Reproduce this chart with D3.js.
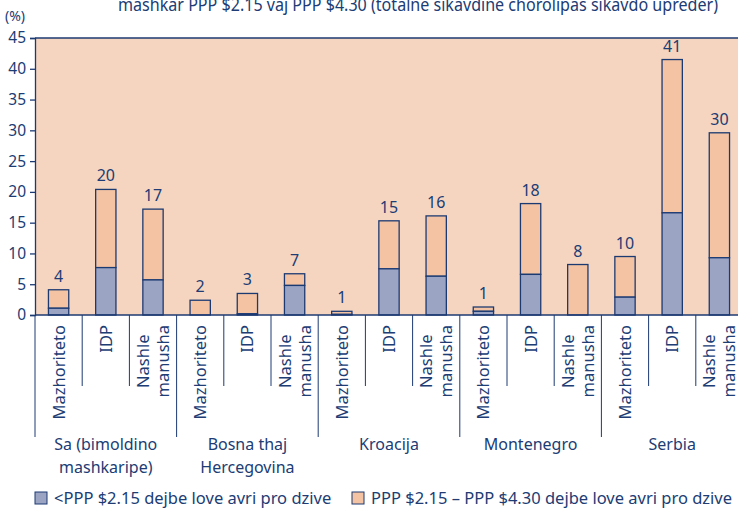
<!DOCTYPE html>
<html>
<head>
<meta charset="utf-8">
<script src="https://cdn.jsdelivr.net/npm/d3@7"></script>
<style>
  body { margin: 0; background: #fff; }
  svg { display: block; font-family: 'Noto Sans', sans-serif; }
</style>
</head>
<body>
<svg id="chart" width="738" height="509"></svg>
<script>
/* global d3 */

// ---------- data ----------
const groups = ['Sa (bimoldino mashkaripe)', 'Bosna thaj Hercegovina', 'Kroacija', 'Montenegro', 'Serbia']
const groupLines = [['Sa (bimoldino', 'mashkaripe)'], ['Bosna thaj', 'Hercegovina'], ['Kroacija'], ['Montenegro'], ['Serbia']]
const subgroups = ['Mazhoriteto', 'IDP', 'Nashle manusha']
const subLines = [['Mazhoriteto'], ['IDP'], ['Nashle', 'manusha']]

// per group, in subgroup order
const below215 = [
  [1.1, 7.7, 5.7],
  [0, 0.2, 4.8],
  [0.1, 7.5, 6.3],
  [0.6, 6.6, 0],
  [2.9, 16.6, 9.3]
]
const between215and430 = [
  [3.0, 12.7, 11.5],
  [2.4, 3.3, 1.9],
  [0.5, 7.8, 9.8],
  [0.7, 11.5, 8.2],
  [6.6, 24.9, 20.3]
]
const totalLabels = [
  [4, 20, 17],
  [2, 3, 7],
  [1, 15, 16],
  [1, 18, 8],
  [10, 41, 30]
]
const yTicks = [0, 5, 10, 15, 20, 25, 30, 35, 40, 45]
const legendLabels = ['<PPP $2.15 dejbe love avri pro dzive', 'PPP $2.15 \u2013 PPP $4.30 dejbe love avri pro dzive']

const title = 'mashkar PPP $2.15 vaj PPP $4.30 (totalne sikavdine chorolipas sikavdo upreder)'

// ---------- style ----------
const navy = '#1c3a72'
const textCol = '#203c74'
const peach = '#f5d5c0'
const orange = '#f3c3a3'
const blue = '#9ca4c4'

const margin = { top: 38, left: 35, bottom: 315, right: 743 }

const svg = d3.select('#chart')

const x0 = d3.scaleBand().domain(groups).range([margin.left, margin.right])
const x1 = d3.scaleBand().domain(subgroups).range([0, x0.bandwidth()])
  .paddingInner(0.57).paddingOuter(0.285)
const step = x0.bandwidth() / subgroups.length
const y = d3.scaleLinear().domain([0, 45]).range([margin.bottom, margin.top])

// plot background
svg.append('rect')
  .attr('x', margin.left).attr('y', margin.top)
  .attr('width', margin.right - margin.left)
  .attr('height', margin.bottom - margin.top)
  .attr('fill', peach)

// top border
svg.append('line')
  .attr('x1', margin.left).attr('x2', margin.right)
  .attr('y1', y(45)).attr('y2', y(45))
  .attr('stroke', navy).attr('stroke-width', 1.3)

// title (cropped at top in the original)
svg.append('text')
  .attr('x', 118).attr('y', 11)
  .attr('fill', textCol)
  .attr('font-size', 18)
  .attr('textLength', 600)
  .attr('lengthAdjust', 'spacingAndGlyphs')
  .text(title)

svg.append('text')
  .attr('x', 5).attr('y', 21)
  .attr('fill', textCol)
  .attr('font-size', 14)
  .text('(%)')

// y axis
const yAxis = svg.append('g')
  .attr('transform', `translate(${margin.left},0)`)
  .call(d3.axisLeft(y).tickValues(yTicks).tickSize(5).tickPadding(4))
yAxis.selectAll('path, line').attr('stroke', navy).attr('stroke-width', 1.3)
yAxis.selectAll('text')
  .attr('fill', textCol)
  .attr('font-size', 15.5)
  .attr('font-family', "'Noto Sans', sans-serif")

// bars
const gGroups = svg.selectAll('.grp')
  .data(groups)
  .join('g')
  .attr('class', 'grp')
  .attr('transform', d => `translate(${x0(d)},0)`)

gGroups.each(function (g, gi) {
  const sel = d3.select(this)
  subgroups.forEach((s, si) => {
    const lo = below215[gi][si]
    const hi = between215and430[gi][si]
    const bx = x1(s)
    const bw = x1.bandwidth()
    if (hi > 0) {
      sel.append('rect')
        .attr('x', bx).attr('width', bw)
        .attr('y', y(lo + hi)).attr('height', y(lo) - y(lo + hi))
        .attr('fill', orange).attr('stroke', navy).attr('stroke-width', 1.3)
    }
    if (lo > 0) {
      sel.append('rect')
        .attr('x', bx).attr('width', bw)
        .attr('y', y(lo)).attr('height', y(0) - y(lo))
        .attr('fill', blue).attr('stroke', navy).attr('stroke-width', 1.3)
    }
    sel.append('text')
      .attr('x', bx + bw / 2)
      .attr('y', y(lo + hi) - 8)
      .attr('text-anchor', 'middle')
      .attr('fill', textCol)
      .attr('font-size', 16)
      .text(totalLabels[gi][si])
  })
})

// x axis line
svg.append('line')
  .attr('x1', margin.left).attr('x2', margin.right)
  .attr('y1', y(0)).attr('y2', y(0))
  .attr('stroke', navy).attr('stroke-width', 1.3)

// category separators + rotated labels
const labelTop = 325
const catSize = 16.5
groups.forEach((g, gi) => {
  const gx = x0(g)
  subgroups.forEach((s, si) => {
    const sx = gx + si * step
    svg.append('line')
      .attr('x1', sx).attr('x2', sx)
      .attr('y1', y(0)).attr('y2', si === 0 ? 437 : 386)
      .attr('stroke', navy).attr('stroke-width', 1)
    const cx = sx + step / 2
    const lines = subLines[si]
    const nodes = lines.map((t, li) => {
      const off = (li - (lines.length - 1) / 2) * 20
      return svg.append('text')
        .attr('fill', textCol)
        .attr('font-size', catSize)
        .attr('data-x', cx + off + 6)
        .text(t)
    })
    // lines centred on each other, block top at labelTop
    const widths = nodes.map(n => n.node().getComputedTextLength())
    const maxW = d3.max(widths)
    nodes.forEach(n => {
      const tx = +n.attr('data-x')
      const mid = labelTop + maxW / 2
      n.attr('text-anchor', 'middle')
        .attr('transform', `translate(${tx},${mid}) rotate(-90)`)
        .attr('data-x', null)
    })
  })
  groupLines[gi].forEach((t, li) => {
    svg.append('text')
      .attr('x', gx + x0.bandwidth() / 2)
      .attr('y', 450 + li * 23)
      .attr('text-anchor', 'middle')
      .attr('fill', textCol)
      .attr('font-size', 16)
      .text(t)
  })
})
svg.append('line')
  .attr('x1', margin.right).attr('x2', margin.right)
  .attr('y1', y(0)).attr('y2', 437)
  .attr('stroke', navy).attr('stroke-width', 1)

// legend
const legendX = [35, 352]
const legendFill = [blue, orange]
legendLabels.forEach((t, i) => {
  svg.append('rect')
    .attr('x', legendX[i]).attr('y', 492)
    .attr('width', 12).attr('height', 12)
    .attr('fill', legendFill[i]).attr('stroke', navy).attr('stroke-width', 1)
  svg.append('text')
    .attr('x', legendX[i] + 19).attr('y', 504)
    .attr('fill', textCol)
    .attr('font-size', 16.5)
    .text(t)
})
</script>
</body>
</html>
